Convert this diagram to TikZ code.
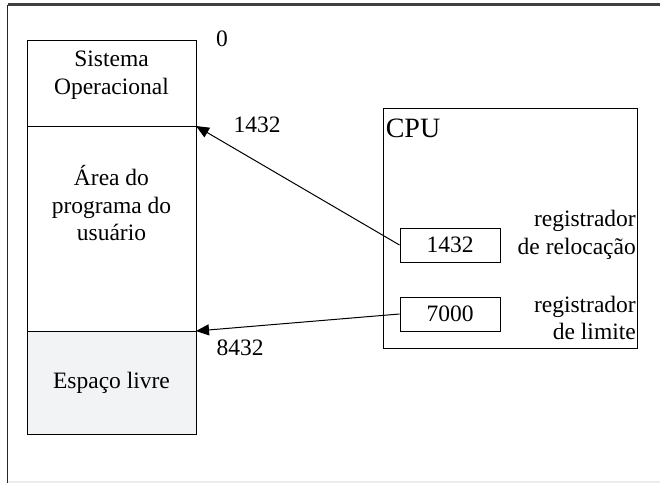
\documentclass[tikz,border=0pt]{standalone}
\usepackage{fontspec}
\setmainfont{Liberation Serif}
\usepackage{tikz}
\usetikzlibrary{positioning,arrows.meta,calc}
\definecolor{livre}{RGB}{242,243,245}

\begin{document}
\begin{tikzpicture}[x=1pt,y=-1pt,font=\fontsize{23.5}{27.5}\selectfont,
mem/.style={draw, line width=1pt, minimum width=169pt, inner sep=0pt, outer sep=0pt},
reg/.style={draw, line width=1pt, minimum width=100pt, minimum height=34pt, inner sep=0pt},
seta/.style={-{Triangle[length=13pt,width=11pt]}, line width=1pt}]

    \useasboundingbox (0,0) rectangle (660,483);
    % moldura
    \draw[line width=2.4pt, black!75] (8,4.5) -- (660,4.5);
    \draw[line width=1.8pt, black!85] (7.5,4.5) -- (7.5,483);
    \draw[line width=1.5pt, black!7] (8,482) -- (660,482);

    % memoria
    \node[mem, minimum height=86pt, anchor=north west] (so) at (27,40) {};
    \node[mem, minimum height=205pt, below=0pt of so] (area) {};
    \node[mem, minimum height=103pt, fill=livre, below=0pt of area] (livre) {};

    \node[align=center] (txtso) at ([yshift=8pt]so.center) {Sistema\\Operacional};
    \node[align=center] (txtarea) at ([yshift=25pt]area.center) {Área do\\programa do\\usuário};
    \node (txtlivre) at (livre.center) {Espaço livre};

    \node (end0) at (222,39) {0};
    \node (end1432) at (257,125) {1432};
    \node (end8432) at (240,348) {8432};

    % cpu
    \node[draw, line width=1pt, minimum width=254pt, minimum height=240pt, anchor=north west] (cpu) at (383,108) {};
    \node[font=\fontsize{28}{32}\selectfont] (cputxt) at (413,128) {CPU};
    \node[reg] (reloc) at (450,245) {1432};
    \node[reg] (limite) at (450,314) {7000};
    \node[align=right, anchor=east, inner sep=0pt] (txtreloc) at (636,235) {registrador\\de relocação};
    \node[align=right, anchor=east, inner sep=0pt] (txtlim) at (636,318) {registrador\\de limite};

    \draw[seta] (reloc.west) -- (so.south east);
    \draw[seta] (limite.west) -- (area.south east);
    %
\end{tikzpicture}
\end{document}
